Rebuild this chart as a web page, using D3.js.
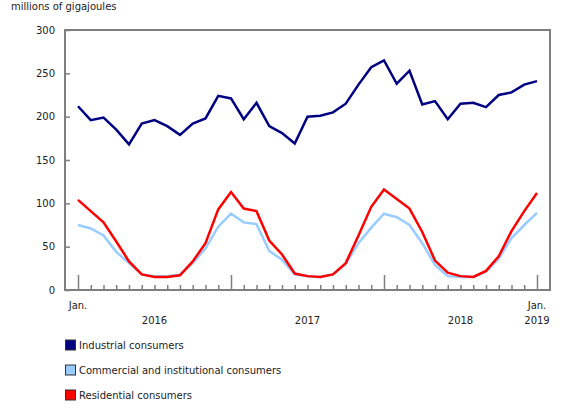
<!DOCTYPE html>
<html><head><meta charset="utf-8">
<script src="https://cdn.jsdelivr.net/npm/d3@7"></script>
<style>body{margin:0;background:#fff}svg{display:block;font-family:"DejaVu Sans",Verdana,sans-serif}</style>
</head><body><svg id="c" width="580" height="410"></svg>
<script>
const months = ["2016-01","2016-02","2016-03","2016-04","2016-05","2016-06","2016-07","2016-08","2016-09","2016-10","2016-11","2016-12",
"2017-01","2017-02","2017-03","2017-04","2017-05","2017-06","2017-07","2017-08","2017-09","2017-10","2017-11","2017-12",
"2018-01","2018-02","2018-03","2018-04","2018-05","2018-06","2018-07","2018-08","2018-09","2018-10","2018-11","2018-12","2019-01"];
const industrial = [212,196,199,185,168,192,196,189,179,192,198,224,221,197,216,189,181,169,200,201,205,215,237,257,265,238,253,214,218,197,215,216,211,225,228,237,241];
const commercial = [75,71,63,44,31,18,16,16,18,31,48,73,88,78,76,45,35,18,16,15,18,30,54,72,88,84,75,54,29,16,15,15,21,36,60,75,89];
const residential = [104,91,78,56,33,18,15,15,17,33,54,93,113,94,91,57,41,19,16,15,18,31,63,96,116,105,94,67,34,20,16,15,22,39,68,91,112];
const yTicks = [0,50,100,150,200,250,300];
const yearLabels = [{year:"2016",from:"2016-01",to:"2017-01"},{year:"2017",from:"2017-01",to:"2018-01"},{year:"2018",from:"2018-01",to:"2019-01"},{year:"2019",from:"2019-01",to:"2019-01"}];
const seriesNames = ["Industrial consumers","Commercial and institutional consumers","Residential consumers"];
const seriesColors = ["#000080","#99ccff","#ff0000"];
const unitLabel = "millions of gigajoules";

const svg = d3.select("#c");
const L=65,R=550,T=30,B=290;
const x = d3.scalePoint().domain(months).range([78,537]);
const y = d3.scaleLinear().domain([0,300]).range([B,T]);
const axisColor="#7f7f7f";

svg.append("text").attr("x",11).attr("y",10).attr("font-size",10).attr("fill","#222").text(unitLabel);

// frame
svg.append("rect").attr("x",L).attr("y",T).attr("width",R-L).attr("height",B-T).attr("fill","none").attr("stroke",axisColor).attr("stroke-width",2);

// y axis
const yAxis = svg.append("g").attr("transform",`translate(${L},0)`)
  .call(d3.axisLeft(y).tickValues(yTicks).tickSize(-5).tickPadding(10).tickFormat(d3.format("d")));
yAxis.select(".domain").remove();
yAxis.selectAll("line").attr("stroke",axisColor).attr("stroke-width",1.5);
yAxis.selectAll("text").attr("font-size",10).attr("fill","#222").attr("font-family","DejaVu Sans");

// x ticks
const xAxis = svg.append("g").attr("transform",`translate(0,${B})`)
  .call(d3.axisBottom(x).tickSize(-5).tickFormat(""));
xAxis.select(".domain").remove();
xAxis.selectAll(".tick line").attr("stroke",axisColor).attr("stroke-width",1.5)
  .attr("y2",d=>d.endsWith("-01")?-15:-5);

// x labels
svg.append("text").attr("x",x("2016-01")).attr("y",309).attr("text-anchor","middle").attr("font-size",10).attr("fill","#222").text("Jan.");
svg.append("text").attr("x",x("2019-01")).attr("y",309).attr("text-anchor","middle").attr("font-size",10).attr("fill","#222").text("Jan.");
svg.selectAll(".yl").data(yearLabels).enter().append("text")
  .attr("x",d=>(x(d.from)+x(d.to))/2).attr("y",324).attr("text-anchor","middle").attr("font-size",10).attr("fill","#222").text(d=>d.year);

// lines
const line = d3.line().x((d,i)=>x(months[i])).y(d=>y(d));
const data=[industrial,commercial,residential];
[1,2,0].forEach(k=>{
  svg.append("path").attr("d",line(data[k])).attr("fill","none").attr("stroke",seriesColors[k]).attr("stroke-width",2.5).attr("stroke-linejoin","miter");
});

// legend
const lg = svg.selectAll(".lg").data(seriesNames).enter().append("g").attr("transform",(d,i)=>`translate(65,${340+i*25})`);
lg.append("rect").attr("x",0.5).attr("y",0).attr("width",10).attr("height",10).attr("fill",(d,i)=>seriesColors[i]).attr("stroke","#333").attr("stroke-width",1);
lg.append("text").attr("x",14).attr("y",9).attr("font-size",10).attr("fill","#222").text(d=>d);
</script></body></html>
